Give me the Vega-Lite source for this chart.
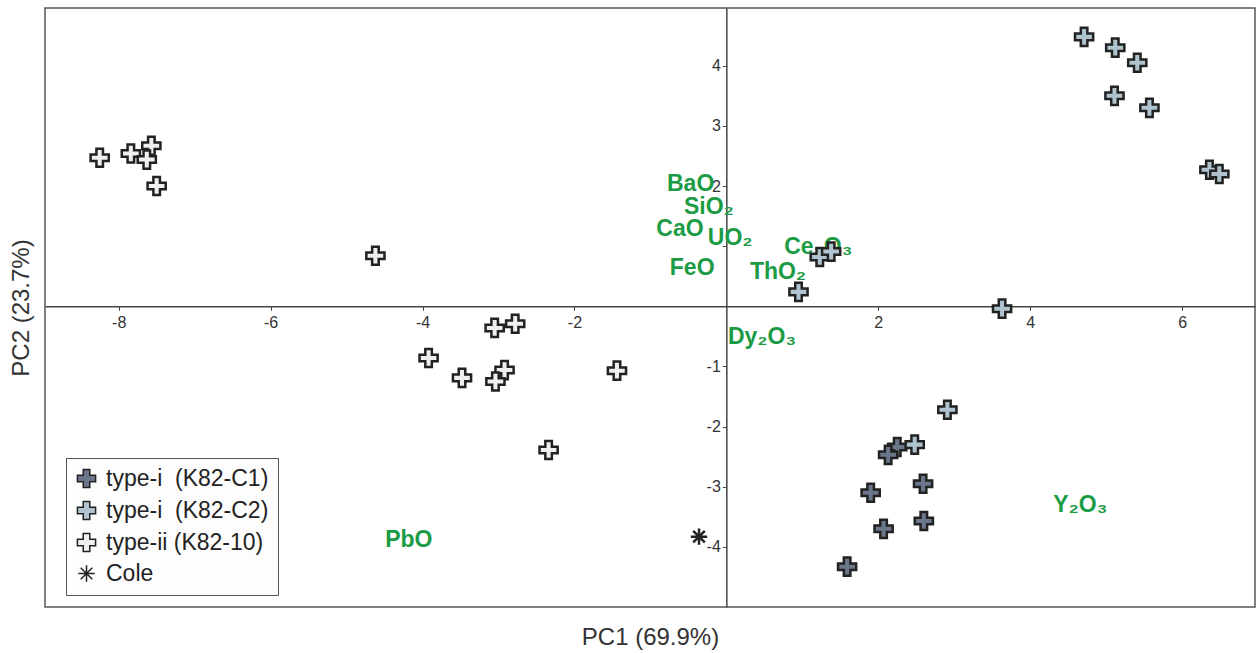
{
  "$schema": "https://vega.github.io/schema/vega-lite/v6.json",
  "width": 1210,
  "height": 599,
  "autosize": {"type": "none"},
  "padding": {"left": 45, "top": 8, "right": 1, "bottom": 46},
  "background": "white",
  "config": {
    "font": "Liberation Sans",
    "view": {"stroke": "#555", "strokeWidth": 1.5},
    "axis": {"grid": false}
  },
  "datasets": {
    "pts": [
      {"group": "type-ii (K82-10)", "pc1": -8.25, "pc2": 2.47},
      {"group": "type-ii (K82-10)", "pc1": -7.84, "pc2": 2.54},
      {"group": "type-ii (K82-10)", "pc1": -7.57, "pc2": 2.67},
      {"group": "type-ii (K82-10)", "pc1": -7.63, "pc2": 2.44},
      {"group": "type-ii (K82-10)", "pc1": -7.50, "pc2": 2.00},
      {"group": "type-ii (K82-10)", "pc1": -4.62, "pc2": 0.84},
      {"group": "type-ii (K82-10)", "pc1": -3.92, "pc2": -0.86},
      {"group": "type-ii (K82-10)", "pc1": -3.48, "pc2": -1.19},
      {"group": "type-ii (K82-10)", "pc1": -3.05, "pc2": -0.36},
      {"group": "type-ii (K82-10)", "pc1": -2.78, "pc2": -0.29},
      {"group": "type-ii (K82-10)", "pc1": -2.92, "pc2": -1.06},
      {"group": "type-ii (K82-10)", "pc1": -3.04, "pc2": -1.25},
      {"group": "type-ii (K82-10)", "pc1": -1.44, "pc2": -1.07},
      {"group": "type-ii (K82-10)", "pc1": -2.34, "pc2": -2.39},
      {"group": "type-i\u00a0 (K82-C1)", "pc1": 2.25, "pc2": -2.34},
      {"group": "type-i\u00a0 (K82-C1)", "pc1": 2.13, "pc2": -2.47},
      {"group": "type-i\u00a0 (K82-C1)", "pc1": 2.59, "pc2": -2.95},
      {"group": "type-i\u00a0 (K82-C1)", "pc1": 1.90, "pc2": -3.10},
      {"group": "type-i\u00a0 (K82-C1)", "pc1": 2.60, "pc2": -3.57},
      {"group": "type-i\u00a0 (K82-C1)", "pc1": 2.07, "pc2": -3.70},
      {"group": "type-i\u00a0 (K82-C1)", "pc1": 1.59, "pc2": -4.33},
      {"group": "type-i\u00a0 (K82-C2)", "pc1": 0.95, "pc2": 0.24},
      {"group": "type-i\u00a0 (K82-C2)", "pc1": 1.23, "pc2": 0.82},
      {"group": "type-i\u00a0 (K82-C2)", "pc1": 1.38, "pc2": 0.91},
      {"group": "type-i\u00a0 (K82-C2)", "pc1": 3.63, "pc2": -0.04},
      {"group": "type-i\u00a0 (K82-C2)", "pc1": 2.91, "pc2": -1.72},
      {"group": "type-i\u00a0 (K82-C2)", "pc1": 2.48, "pc2": -2.30},
      {"group": "type-i\u00a0 (K82-C2)", "pc1": 4.71, "pc2": 4.48},
      {"group": "type-i\u00a0 (K82-C2)", "pc1": 5.12, "pc2": 4.30},
      {"group": "type-i\u00a0 (K82-C2)", "pc1": 5.41, "pc2": 4.05},
      {"group": "type-i\u00a0 (K82-C2)", "pc1": 5.11, "pc2": 3.50},
      {"group": "type-i\u00a0 (K82-C2)", "pc1": 5.57, "pc2": 3.30},
      {"group": "type-i\u00a0 (K82-C2)", "pc1": 6.36, "pc2": 2.27},
      {"group": "type-i\u00a0 (K82-C2)", "pc1": 6.49, "pc2": 2.20},
      {"group": "Cole", "pc1": -0.36, "pc2": -3.83}
    ],
    "vars": [
      {"label": "BaO", "pc1": -0.47, "pc2": 2.04},
      {"label": "SiO₂", "pc1": -0.23, "pc2": 1.65},
      {"label": "CaO", "pc1": -0.61, "pc2": 1.29},
      {"label": "UO₂", "pc1": 0.05, "pc2": 1.14},
      {"label": "FeO", "pc1": -0.45, "pc2": 0.64},
      {"label": "ThO₂", "pc1": 0.68, "pc2": 0.57},
      {"label": "Ce₂O₃", "pc1": 1.21, "pc2": 0.99},
      {"label": "Dy₂O₃", "pc1": 0.47, "pc2": -0.51},
      {"label": "Y₂O₃", "pc1": 4.66, "pc2": -3.30},
      {"label": "PbO", "pc1": -4.18, "pc2": -3.88}
    ]
  },
  "layer": [
    {
      "data": {"name": "vars"},
      "mark": {"type": "text", "fontWeight": "bold", "fontSize": 23, "fill": "#1c9b45", "align": "center", "baseline": "middle"},
      "encoding": {
        "x": {
          "field": "pc1", "type": "quantitative",
          "scale": {"domain": [-8.97, 6.96], "nice": false, "zero": false},
          "axis": {"orient": "bottom", "title": "PC1 (69.9%)", "labels": false, "ticks": false, "domain": false, "titleFontSize": 24, "titleFontWeight": "normal", "titleColor": "#333", "titlePadding": 18}
        },
        "y": {
          "field": "pc2", "type": "quantitative",
          "scale": {"domain": [-5.0, 4.96], "nice": false, "zero": false},
          "axis": {"orient": "left", "title": "PC2 (23.7%)", "labels": false, "ticks": false, "domain": false, "titleFontSize": 24, "titleFontWeight": "normal", "titleColor": "#333", "titlePadding": 12}
        },
        "text": {"field": "label"}
      }
    },
    {
      "data": {"name": "pts"},
      "mark": {"type": "point", "filled": true, "stroke": "#222", "strokeWidth": 2.5, "opacity": 1, "size": 330},
      "encoding": {
        "x": {
          "field": "pc1", "type": "quantitative",
          "scale": {"domain": [-8.97, 6.96], "nice": false, "zero": false},
          "axis": {"orient": "bottom", "offset": {"expr": "scale('y', 0) - height"}, "values": [-8, -6, -4, -2, 2, 4, 6], "title": null, "labelExpr": "'' + datum.value", "domainColor": "#444", "domainWidth": 1.5, "tickColor": "#444", "tickSize": 4, "labelFontSize": 16, "labelColor": "#333", "labelPadding": 4}
        },
        "y": {
          "field": "pc2", "type": "quantitative",
          "scale": {"domain": [-5.0, 4.96], "nice": false, "zero": false},
          "axis": {"orient": "left", "offset": {"expr": "-scale('x', 0)"}, "values": [4, 3, 2, 1, -1, -2, -3, -4], "title": null, "labelExpr": "datum.value == 1 ? '' : '' + datum.value", "domainColor": "#444", "domainWidth": 1.5, "tickColor": "#444", "tickSize": 4, "labelFontSize": 16, "labelColor": "#333", "labelPadding": 2}
        },
        "fill": {
          "field": "group", "type": "nominal",
          "scale": {"domain": ["type-i\u00a0 (K82-C1)", "type-i\u00a0 (K82-C2)", "type-ii (K82-10)", "Cole"], "range": ["#6b768b", "#b0c4cf", "#efefef", "#111111"]},
          "legend": {"title": null, "orient": "none", "legendX": 21, "legendY": 450, "fillColor": "#fdfdfd", "strokeColor": "#555", "padding": 9, "labelFontSize": 23, "labelLimit": 400, "labelColor": "#222", "symbolSize": 330, "rowPadding": 7, "labelOffset": 8, "encode": {"symbols": {"update": {"stroke": {"value": "#222"}, "strokeWidth": {"value": 2.5}, "opacity": {"value": 1}}}}}
        },
        "shape": {
          "field": "group", "type": "nominal",
          "scale": {"domain": ["type-i\u00a0 (K82-C1)", "type-i\u00a0 (K82-C2)", "type-ii (K82-10)", "Cole"], "range": [
            "M-0.36,-1H0.36V-0.36H1V0.36H0.36V1H-0.36V0.36H-1V-0.36H-0.36Z",
            "M-0.36,-1H0.36V-0.36H1V0.36H0.36V1H-0.36V0.36H-1V-0.36H-0.36Z",
            "M-0.36,-1H0.36V-0.36H1V0.36H0.36V1H-0.36V0.36H-1V-0.36H-0.36Z",
            "M0,-0.9V0.9M-0.9,0H0.9M-0.64,-0.64L0.64,0.64M-0.64,0.64L0.64,-0.64"
          ]},
          "legend": {"title": null, "orient": "none", "legendX": 21, "legendY": 450, "fillColor": "#fdfdfd", "strokeColor": "#555", "padding": 9, "labelFontSize": 23, "labelLimit": 400, "labelColor": "#222", "symbolSize": 330, "rowPadding": 7, "labelOffset": 8, "encode": {"symbols": {"update": {"stroke": {"value": "#222"}, "strokeWidth": {"value": 2.5}, "opacity": {"value": 1}}}}}
        }
      }
    }
  ],
  "resolve": {"axis": {"x": "independent", "y": "independent"}}
}
